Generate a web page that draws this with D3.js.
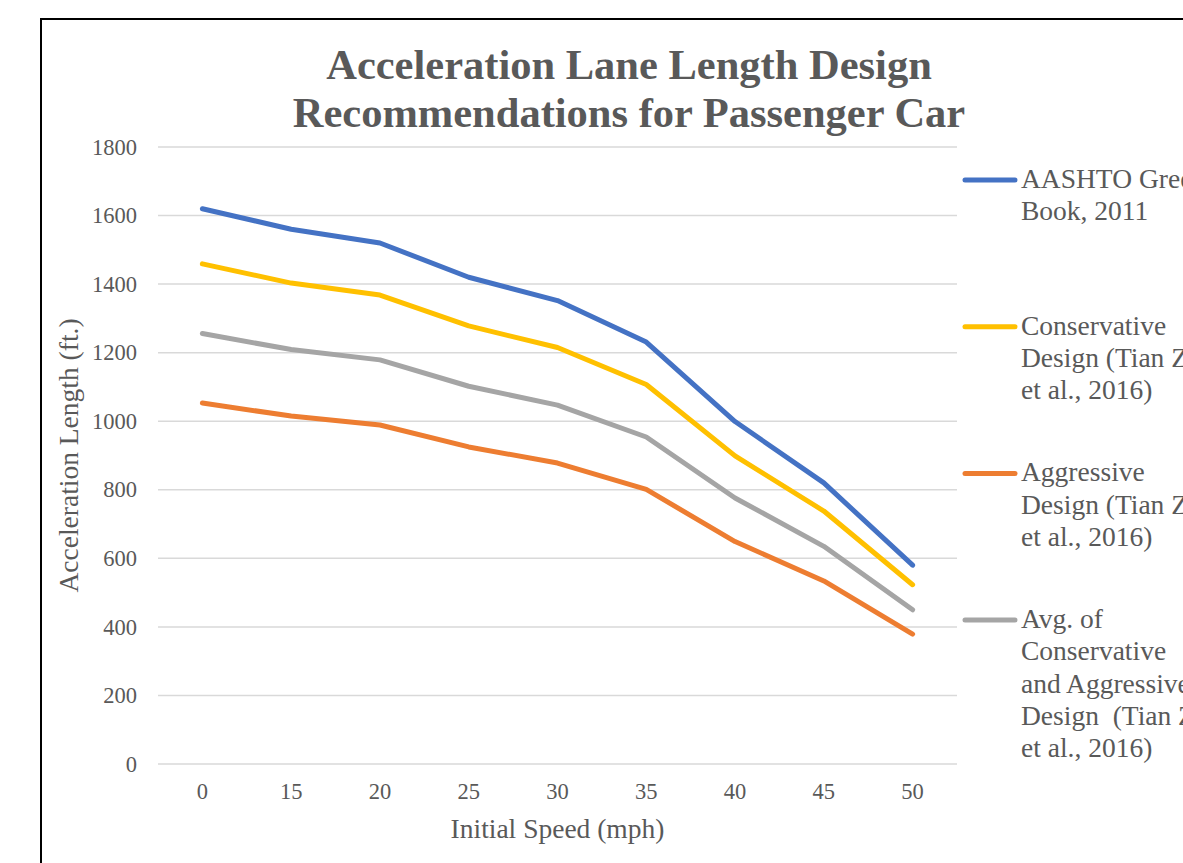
<!DOCTYPE html>
<html>
<head>
<meta charset="utf-8">
<script src="https://cdn.jsdelivr.net/npm/d3@7"></script>
<style>
  html, body { margin: 0; padding: 0; background: #fff; overflow: hidden; }
  svg { display: block; }
  text { font-family: "Liberation Serif", "Times New Roman", serif; fill: #595959; }
</style>
</head>
<body>
<svg id="chart" width="1183" height="863"></svg>
<script>
// Initial speeds (mph) along the x axis
const speeds = ["0", "15", "20", "25", "30", "35", "40", "45", "50"];

// Acceleration lane lengths (ft.)
const aashto       = [1620, 1560, 1520, 1420, 1352, 1231, 999, 820, 580];
const conservative = [1459, 1403, 1368, 1278, 1215, 1107, 899, 738, 523];
const aggressive   = [1053, 1015, 989, 925, 878, 801, 649, 534, 379];
const average      = [1256, 1209, 1179, 1102, 1047, 954, 776, 635, 450];

const yTicks = [0, 200, 400, 600, 800, 1000, 1200, 1400, 1600, 1800];

const seriesNames = [
  ["AASHTO Green", "Book, 2011"],
  ["Conservative", "Design (Tian Z.", "et al., 2016)"],
  ["Aggressive", "Design (Tian Z.", "et al., 2016)"],
  ["Avg. of", "Conservative", "and Aggressive", "Design\u00a0 (Tian Z.", "et al., 2016)"]
];
const seriesColors = ["#4472C4", "#FFC000", "#ED7D31", "#A5A5A5"];
const seriesValues = [aashto, conservative, aggressive, average];

const svg = d3.select("#chart");

// chart frame (continues past the right and bottom of the view)
svg.append("rect")
  .attr("x", 41).attr("y", 19)
  .attr("width", 1300).attr("height", 1000)
  .attr("fill", "#fff")
  .attr("stroke", "#000")
  .attr("stroke-width", 2);

const plot = { left: 158, right: 957, top: 147, bottom: 764 };

const x = d3.scaleBand().domain(speeds).range([plot.left, plot.right]);
const y = d3.scaleLinear().domain([0, 1800]).range([plot.bottom, plot.top]);

// horizontal gridlines
svg.append("g")
  .selectAll("line")
  .data(yTicks)
  .join("line")
  .attr("x1", plot.left).attr("x2", plot.right)
  .attr("y1", d => y(d)).attr("y2", d => y(d))
  .attr("stroke", "#d9d9d9")
  .attr("stroke-width", 1.5);

// y axis labels
const yAxis = svg.append("g")
  .attr("transform", `translate(${plot.left - 21},0)`)
  .call(d3.axisLeft(y).tickValues(yTicks).tickFormat(d3.format("d")).tickSize(0).tickPadding(0));
yAxis.select(".domain").remove();
yAxis.selectAll("text")
  .attr("font-size", "22.5px")
  .attr("font-family", "Liberation Serif, serif")
  .attr("fill", "#595959");

// x axis labels
const xAxis = svg.append("g")
  .attr("transform", `translate(0,${plot.bottom})`)
  .call(d3.axisBottom(x).tickSize(0).tickPadding(0));
xAxis.select(".domain").remove();
xAxis.selectAll("text")
  .attr("dy", null)
  .attr("y", 35)
  .attr("font-size", "22.5px")
  .attr("font-family", "Liberation Serif, serif")
  .attr("fill", "#595959");

// series lines
const line = d3.line()
  .x((d, i) => x(speeds[i]) + x.bandwidth() / 2)
  .y(d => y(d));

svg.append("g")
  .selectAll("path")
  .data([3, 2, 1, 0])
  .join("path")
  .attr("d", i => line(seriesValues[i]))
  .attr("fill", "none")
  .attr("stroke", i => seriesColors[i])
  .attr("stroke-width", 5)
  .attr("stroke-linecap", "round")
  .attr("stroke-linejoin", "round");

// title
const title = svg.append("text")
  .attr("text-anchor", "middle")
  .attr("font-size", "42.5px")
  .attr("font-weight", "bold");
title.append("tspan").attr("x", 629).attr("y", 79).text("Acceleration Lane Length Design");
title.append("tspan").attr("x", 629).attr("y", 127).text("Recommendations for Passenger Car");

// axis titles
svg.append("text")
  .attr("x", (plot.left + plot.right) / 2)
  .attr("y", 838)
  .attr("text-anchor", "middle")
  .attr("font-size", "27.5px")
  .text("Initial Speed (mph)");

svg.append("text")
  .attr("transform", `translate(78,${(plot.top + plot.bottom) / 2}) rotate(-90)`)
  .attr("text-anchor", "middle")
  .attr("font-size", "27.5px")
  .text("Acceleration Length (ft.)");

// legend
const legend = svg.append("g");
const entry = legend.selectAll("g")
  .data([0, 1, 2, 3])
  .join("g")
  .attr("transform", i => `translate(0,${180 + i * 146.7})`);

entry.append("line")
  .attr("x1", 965).attr("x2", 1015)
  .attr("y1", 0).attr("y2", 0)
  .attr("stroke", i => seriesColors[i])
  .attr("stroke-width", 5)
  .attr("stroke-linecap", "round");

entry.append("text")
  .attr("font-size", "27.5px")
  .attr("xml:space", "preserve")
  .selectAll("tspan")
  .data(i => seriesNames[i])
  .join("tspan")
  .attr("x", 1021)
  .attr("y", (d, k) => 8 + k * 32.3)
  .text(d => d);
</script>
</body>
</html>
